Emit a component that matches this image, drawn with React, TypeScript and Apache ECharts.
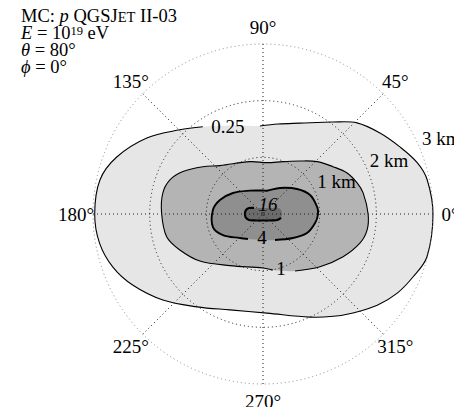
import React, { useEffect, useRef } from 'react';
import * as echarts from 'echarts';

// Polar grid: angle ticks (degrees) and distance rings (km)
const angleTicks = [0, 45, 90, 135, 180, 225, 270, 315];
const ringRadii = [1, 2, 3];
const ringLabelAngle = 22.5;
const angleLabelRadius = 3.3;

// Contour outlines as [angle in degrees, distance in km]
const contour025: number[][] = [
  [0, 3.0], [11.7, 2.96], [18.3, 2.87], [26.1, 2.69], [34.7, 2.51], [44.1, 2.31],
  [52.7, 2.04], [67.9, 1.73], [80.5, 1.61], [92, 1.555], [110, 1.66], [124.6, 1.87],
  [134.7, 2.09], [146.8, 2.45], [158.7, 2.77], [168.2, 2.94], [180, 2.97], [190.1, 2.93],
  [199.5, 2.81], [208.6, 2.62], [220.7, 2.33], [234.6, 2.01], [251, 1.79], [272.3, 1.75],
  [294.5, 2.0], [304.5, 2.19], [312.3, 2.36], [321.4, 2.58], [329.5, 2.75], [337.2, 2.87],
  [345.3, 2.99],
];
const contour1: number[][] = [
  [0, 1.855], [11.9, 1.806], [18.3, 1.749], [26, 1.652], [34, 1.493], [44.1, 1.329],
  [55.1, 1.141], [69.1, 0.989], [85.5, 0.91], [104, 0.952], [131.7, 1.143], [141.8, 1.35],
  [152.1, 1.599], [159.9, 1.749], [168.1, 1.806], [179.4, 1.79], [193.3, 1.747], [203.4, 1.599],
  [216.7, 1.389], [237.4, 1.081], [270, 0.954], [280.1, 1.005], [299.3, 1.155], [317.2, 1.371],
  [331.9, 1.602], [343.4, 1.788], [351.3, 1.859],
];
const contour4: number[][] = [
  [0, 0.972], [7.4, 0.963], [22, 0.896], [36.3, 0.746], [56.8, 0.549], [80.3, 0.417],
  [90, 0.415], [119.2, 0.472], [145, 0.647], [162, 0.799], [175.4, 0.887], [194.6, 0.913],
  [207.7, 0.799], [226.2, 0.587], [239, 0.516], [270, 0.459], [294.8, 0.505], [321.3, 0.678],
  [336.6, 0.846], [350.2, 0.933],
];
const contour16: number[][] = [
  [0, 0.336], [12, 0.325], [20, 0.3], [34, 0.191], [60, 0.122], [90, 0.106], [120, 0.122],
  [146, 0.191], [157, 0.269], [168, 0.311], [180, 0.318], [192, 0.311], [203, 0.269],
  [214, 0.203], [240, 0.133], [270, 0.115], [300, 0.133], [326, 0.203], [337, 0.274],
  [348, 0.325],
];

const contourLevels = ['0.25', '1', '4', '16'];
const contourOutlines = [contour025, contour1, contour4, contour16];
// the outline is left open between these two angles, where the level label sits
const labelGaps = [[92, 124.6], [280.1, 299.3], [239, 294.8], [348, 146]];
const labelAngles = [111.9, 288.3, 267.6, 61];
const labelRadii = [1.657, 1.014, 0.415, 0.182];

const fillColors = ['#e6e6e6', '#b4b4b4', '#8f8f8f', '#6b6b6b'];
const strokeWidths = [1.1, 1.1, 1.9, 2.2];
const FONT = '"Liberation Serif", "DejaVu Serif", serif';
const LABEL_SIZE = 19;
const INFO_SIZE = 18.5;

function openOutline(pts: number[][], gap: number[]) {
  const n = pts.length;
  const s = pts.findIndex((p) => p[0] === gap[1]);
  const e = pts.findIndex((p) => p[0] === gap[0]);
  const out: number[][] = [];
  for (let i = s; ; i = (i + 1) % n) {
    out.push(pts[i]);
    if (i === e) break;
  }
  return out;
}

export default function App() {
  const ref = useRef<HTMLDivElement>(null);

  useEffect(() => {
    if (!ref.current) return;
    const chart = echarts.init(ref.current, undefined, { renderer: 'svg' });

    const contourSeries = contourOutlines.map((outline, k) => ({
      type: 'custom',
      coordinateSystem: 'polar',
      z: 1,
      silent: true,
      data: [[outline[0][1], outline[0][0]]],
      renderItem: (params: any, api: any) => {
        const toXY = (p: number[]) => api.coord([p[1], p[0]]);
        const fillPts = outline.map(toXY);
        const linePts = openOutline(outline, labelGaps[k]).map(toXY);
        return {
          type: 'group',
          children: [
            {
              type: 'polygon',
              shape: { points: fillPts, smooth: 0.35 },
              style: { fill: fillColors[k], stroke: 'none' },
            },
            {
              type: 'polyline',
              shape: { points: linePts, smooth: 0.35 },
              style: { fill: 'none', stroke: '#000', lineWidth: strokeWidths[k] },
            },
          ],
        };
      },
    }));

    const textSeries = {
      type: 'custom',
      coordinateSystem: 'polar',
      z: 10,
      silent: true,
      data: [[0, 0]],
      renderItem: (params: any, api: any) => {
        const children: any[] = [];
        angleTicks.forEach((a) => {
          const [x, y] = api.coord([angleLabelRadius, a]);
          children.push({
            type: 'text', x, y,
            style: {
              text: `${a}°`, align: 'center', verticalAlign: 'middle',
              fontFamily: FONT, fontSize: LABEL_SIZE, fill: '#000',
            },
          });
        });
        ringRadii.forEach((r) => {
          const [x, y] = api.coord([r, ringLabelAngle]);
          children.push({
            type: 'text', x: x + 2, y: y - 1,
            style: {
              text: `${r} km`, align: 'left', verticalAlign: 'bottom',
              fontFamily: FONT, fontSize: LABEL_SIZE, fill: '#000',
            },
          });
        });
        contourLevels.forEach((lv, k) => {
          const [x, y] = api.coord([labelRadii[k], labelAngles[k]]);
          children.push({
            type: 'text', x, y,
            style: {
              text: lv, align: 'center', verticalAlign: 'middle',
              fontFamily: FONT, fontSize: LABEL_SIZE, fill: '#000',
              fontStyle: lv === '16' ? 'italic' : 'normal',
            },
          });
        });
        return { type: 'group', children };
      },
    };

    const dotted = [1, 3];
    const infoRich = {
      i: { fontFamily: FONT, fontSize: INFO_SIZE, fontStyle: 'italic', lineHeight: 16 },
      sc: { fontFamily: FONT, fontSize: 14.5, lineHeight: 14, verticalAlign: 'bottom' },
      sup: { fontFamily: FONT, fontSize: 12.5, lineHeight: 11, verticalAlign: 'top' },
    };
    const infoLines = [
      'MC: {i|p} QGSJ{sc|ET} II-03',
      '{i|E} = 10{sup|19} eV',
      '{i|θ} = 80°',
      '{i|ϕ} = 0°',
    ];
    const infoY = [16, 32.5, 50, 66.5];

    chart.setOption({
      animation: false,
      backgroundColor: '#fff',
      polar: { center: [263, 214], radius: 170 },
      angleAxis: {
        type: 'value', min: 0, max: 360, interval: 45, startAngle: 0, clockwise: false,
        z: 5,
        axisLine: { show: false }, axisTick: { show: false }, axisLabel: { show: false },
        splitLine: { show: true, lineStyle: { color: '#1a1a1a', width: 1, type: dotted } },
      },
      radiusAxis: {
        type: 'value', min: 0, max: 3, interval: 1,
        z: 5,
        axisLine: { show: false }, axisTick: { show: false }, axisLabel: { show: false },
        splitLine: {
          show: true,
          lineStyle: { color: ['#1a1a1a', '#1a1a1a', '#1a1a1a', '#8a8a8a'], width: 1, type: dotted },
        },
      },
      graphic: infoLines.map((t, i) => ({
        type: 'text',
        x: 21,
        y: infoY[i],
        z: 20,
        style: {
          text: t, fontFamily: FONT, fontSize: INFO_SIZE, lineHeight: 16, fill: '#000',
          verticalAlign: 'middle', align: 'left',
          rich: infoRich,
        },
      })),
      series: [...contourSeries, textSeries],
    } as any);

    return () => chart.dispose();
  }, []);

  return (
    <div
      ref={ref}
      style={{ position: 'absolute', left: 0, top: 0, width: 454, height: 407, background: '#fff' }}
    />
  );
}
